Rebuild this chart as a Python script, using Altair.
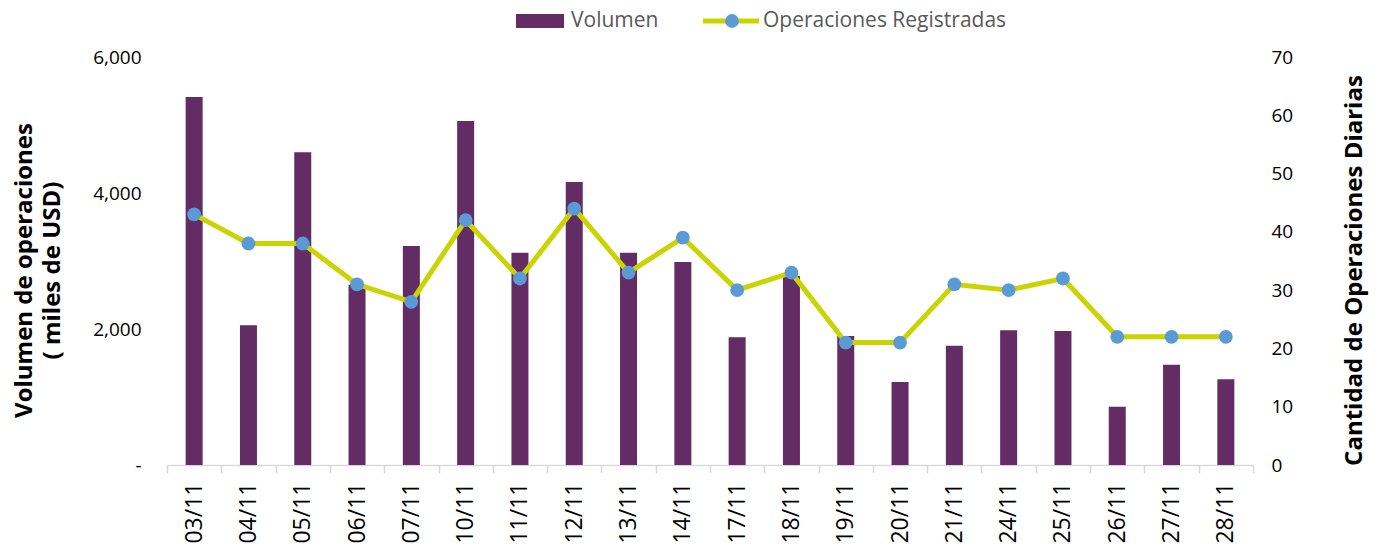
import altair as alt
import pandas as pd

fechas = ["03/11", "04/11", "05/11", "06/11", "07/11", "10/11", "11/11", "12/11", "13/11", "14/11",
          "17/11", "18/11", "19/11", "20/11", "21/11", "24/11", "25/11", "26/11", "27/11", "28/11"]
volumen = [5410, 2055, 4600, 2650, 3220, 5060, 3120, 4160, 3120, 2985,
           1880, 2780, 1897, 1220, 1755, 1980, 1972, 858, 1475, 1262]
operaciones = [43, 38, 38, 31, 28, 42, 32, 44, 33, 39,
               30, 33, 21, 21, 31, 30, 32, 22, 22, 22]
series = ["Volumen", "Operaciones Registradas"]
left_ticks = [0, 2000, 4000, 6000]
right_ticks = [0, 10, 20, 30, 40, 50, 60, 70]

PURPLE = "#632c65"
YELLOW = "#cad400"
BLUE = "#5b9bd5"
GRAY_TEXT = "#595959"
AXIS_GRAY = "#d9d9d9"
FONT = "Open Sans"

df = pd.DataFrame({"fecha": fechas, "volumen": volumen, "ops": operaciones})

x_enc = alt.X(
    "fecha:N", sort=fechas,
    scale=alt.Scale(paddingInner=0, paddingOuter=0),
    axis=alt.Axis(
        title=None, labelAngle=270, labelFontSize=23, labelColor="black",
        domainColor=AXIS_GRAY, domainWidth=1.5, tickColor=AXIS_GRAY, tickWidth=1.5,
        tickSize=8, tickBand="extent", labelPadding=9, grid=False, labelFont=FONT,
    ),
)

bars = alt.Chart(df).mark_bar(size=17, color=PURPLE).encode(
    x=x_enc,
    y=alt.Y(
        "volumen:Q",
        scale=alt.Scale(domain=[0, 6000], nice=False),
        axis=alt.Axis(
            orient="left", values=left_ticks,
            labelExpr="datum.value == 0 ? '-\u00a0\u00a0\u00a0' : format(datum.value, ',')",
            domain=False, ticks=False, grid=False, labelPadding=26,
            labelFontSize=19, labelColor="black", labelFont=FONT,
            title=["Volumen de operaciones", "( miles de USD)"],
            titleFontSize=24, titleFontWeight="bold", titleColor="black", titleFont=FONT,
            titleAngle=270, titleX=-143, titleY=213, titleAlign="center",
            titleBaseline="middle", titleLineHeight=28,
        ),
    ),
)

y_right = alt.Y(
    "ops:Q",
    scale=alt.Scale(domain=[0, 70], nice=False),
    axis=alt.Axis(
        orient="right", values=right_ticks, domain=False, ticks=False, grid=False,
        labelPadding=18, labelFontSize=19, labelColor="black", labelFont=FONT,
        title="Cantidad de Operaciones Diarias",
        titleFontSize=24, titleFontWeight="bold", titleColor="black", titleFont=FONT,
        titleAngle=270, titleX=101, titleY=213, titleAlign="center", titleBaseline="middle",
    ),
)

line = alt.Chart(df).mark_line(color=YELLOW, strokeWidth=5).encode(x=x_enc, y=y_right)
points = alt.Chart(df).mark_point(filled=True, size=190, color=BLUE, opacity=1).encode(
    x=x_enc, y=y_right
)
ops_layer = alt.layer(line, points)

# legend
leg_vol = pd.DataFrame({"label": [series[0]]})
leg_ops = pd.DataFrame({"label": [series[1]]})

leg_rect = alt.Chart(leg_vol).mark_rect(color=PURPLE).encode(
    x=alt.value(349), x2=alt.value(397), y=alt.value(-43), y2=alt.value(-29)
)
leg_text1 = alt.Chart(leg_vol).mark_text(
    align="left", baseline="middle", fontSize=21, color=GRAY_TEXT, font=FONT
).encode(x=alt.value(404), y=alt.value(-36), text="label:N")
leg_line = alt.Chart(leg_ops).mark_rule(color=YELLOW, strokeWidth=5).encode(
    x=alt.value(536), x2=alt.value(592), y=alt.value(-36)
)
leg_pt = alt.Chart(leg_ops).mark_point(filled=True, size=190, color=BLUE, opacity=1).encode(
    x=alt.value(565), y=alt.value(-36)
)
leg_text2 = alt.Chart(leg_ops).mark_text(
    align="left", baseline="middle", fontSize=21, color=GRAY_TEXT, font=FONT
).encode(x=alt.value(596), y=alt.value(-36), text="label:N")

chart = alt.layer(
    bars, ops_layer, leg_rect, leg_text1, leg_line, leg_pt, leg_text2
).resolve_scale(y="independent").properties(
    width=1086, height=408,
    autosize=alt.AutoSizeParams(type="none"),
    padding={"left": 167, "top": 57, "right": 124, "bottom": 81},
).configure(font=FONT, view=alt.ViewConfig(stroke=None))

chart.save("out.html", embed_options={"renderer": "svg", "actions": False})
